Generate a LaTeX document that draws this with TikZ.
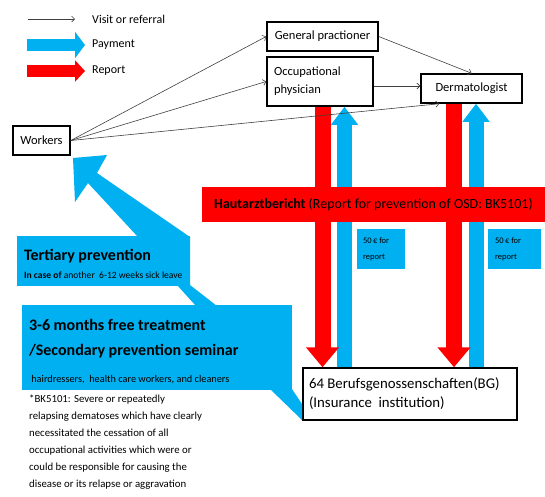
\documentclass[tikz,border=0pt]{standalone}
\usepackage{fontspec}
\setmainfont{Carlito}
\usetikzlibrary{arrows.meta}
\definecolor{payblue}{RGB}{0,176,240}
\definecolor{repred}{RGB}{255,0,0}
\newcommand\fsz[2]{\fontsize{#1}{#2}\selectfont}

\begin{document}
\begin{tikzpicture}[x=1pt, y=-1pt,
  box/.style={draw, line width=1.5pt, fill=white, inner sep=0pt, font=\fsz{12.5}{15}},
  visit/.style={draw=black!75, line width=0.6pt, -{Straight Barb[length=3pt,width=6pt]}},
  pay/.style={draw=payblue, line width=15pt, -{Triangle[length=18pt,width=26pt]}},
  report/.style={draw=repred, line width=16pt, -{Triangle[length=20pt,width=32pt]}},
  bluebox/.style={fill=payblue, inner sep=0pt, align=flush left}]
\useasboundingbox (0,0) rectangle (545,496);

% legend
\coordinate (lv0) at (28,19);
\coordinate (lv1) at (75,19);
\coordinate (lp0) at (27,45);
\coordinate (lp1) at (85,45);
\coordinate (lr0) at (27,71);
\coordinate (lr1) at (85,71);
\draw[visit] (lv0) -- (lv1);
\draw[draw=payblue, line width=12pt, -{Triangle[length=10pt,width=26pt]}] (lp0) -- (lp1);
\draw[draw=repred, line width=12pt, -{Triangle[length=10pt,width=21pt]}] (lr0) -- (lr1);
\node[anchor=west, inner sep=0pt, font=\fsz{12}{14}] (lvt) at (92,19) {Visit or referral};
\node[anchor=west, inner sep=0pt, font=\fsz{12}{14}] (lpt) at (92,45) {Payment};
\node[anchor=west, inner sep=0pt, font=\fsz{12}{14}] (lrt) at (92,71) {Report};

% actors
\node[box, minimum width=57pt, minimum height=29pt] (workers) at (41.5,140.5) {Workers};
\node[box, minimum width=111pt, minimum height=29pt] (gp) at (322.5,36.5) {General practioner};
\node[box, minimum width=106pt, minimum height=49pt, text width=92pt, align=flush left,
  font=\fsz{12.5}{18}] (occ) at (320,81.5) {Occupational\\physician};
\node[box, minimum width=101pt, minimum height=29pt] (derm) at (471.5,88.5) {Dermatologist};
\node[box, minimum width=214pt, minimum height=52pt, text width=202pt, align=flush left,
  font=\fsz{14.8}{19}] (bg) at (410,394) {64 Berufsgenossenschaften(BG)\\(Insurance\ \ institution)};

% payments and reports (under the report band)
\draw[pay] (bg.north -| 344.5,0) -- ([xshift=24.5pt]occ.south);
\draw[pay] (bg.north -| 476,0) -- ([xshift=4.5pt]derm.south);
\draw[report] ([xshift=2.5pt]occ.south) -- ([xshift=2.5pt]occ.south |- bg.north);
\draw[report] ([xshift=-17.5pt]derm.south) -- ([xshift=-17.5pt]derm.south |- bg.north);

\node[fill=repred, minimum width=343pt, minimum height=35pt, inner sep=0pt,
  font=\fsz{14}{16}] (band) at (373.5,204.5)
  {\textbf{Hautarztbericht} (Report for prevention of OSD: BK5101)};

\node[bluebox, minimum width=48pt, minimum height=40pt, text width=36pt,
  font=\fsz{8.5}{16}] (fee1) at (381,249) {50\,€ for\\report};
\node[bluebox, minimum width=53pt, minimum height=40pt, text width=39pt,
  font=\fsz{8.5}{16}] (fee2) at (514.5,249) {50\,€ for\\report};

% prevention callouts
\fill[payblue] (73,158) -- (107,155) -- (97,173) -- (190,237) -- (190,285)
  -- (217,306) -- (196,306) -- (177,285) -- (138,237) -- (88,183) -- (75,202) -- cycle;
\fill[payblue] (270,389) -- (292,389) -- (302,404) -- (302,420) -- cycle;
\node[bluebox, minimum width=173pt, minimum height=50pt, text width=159pt,
  font=\fsz{16}{18}] (tert) at (103.5,261)
  {\rule{0pt}{18pt}\textbf{Tertiary prevention}\\
   \mbox{\fsz{9.6}{11}\textbf{In case of} another\ \ 6-12 weeks sick leave}};
\node[bluebox, minimum width=270pt, minimum height=85pt, text width=256pt,
  font=\fsz{16}{25}] (sec) at (157,347.5)
  {\rule{0pt}{19pt}\textbf{3-6 months free treatment}\\
   \textbf{/Secondary prevention seminar}\\[2pt]
   \mbox{\fsz{10.3}{12}\ hairdressers,\ \ health care workers, and cleaners}};

\node[anchor=north west, inner sep=0pt, align=left, font=\fsz{10.8}{17}] (note) at (29,395)
  {*BK5101: Severe or repeatedly\\
   relapsing dematoses which have clearly\\
   necessitated the cessation of all\\
   occupational activities which were or\\
   could be responsible for causing the\\
   disease or its relapse or aggravation};

% visits and referrals
\draw[visit] (workers.east) -- (gp.west);
\draw[visit] (workers.east) -- (occ.west);
\draw[visit] (workers.east) -- ([xshift=19pt]derm.south west);
\draw[visit] (gp.east) -- (derm.north);
\draw[visit] ([yshift=-4.5pt]occ.east) -- ([yshift=-4.5pt]occ.east -| derm.west);
\end{tikzpicture}
\end{document}
